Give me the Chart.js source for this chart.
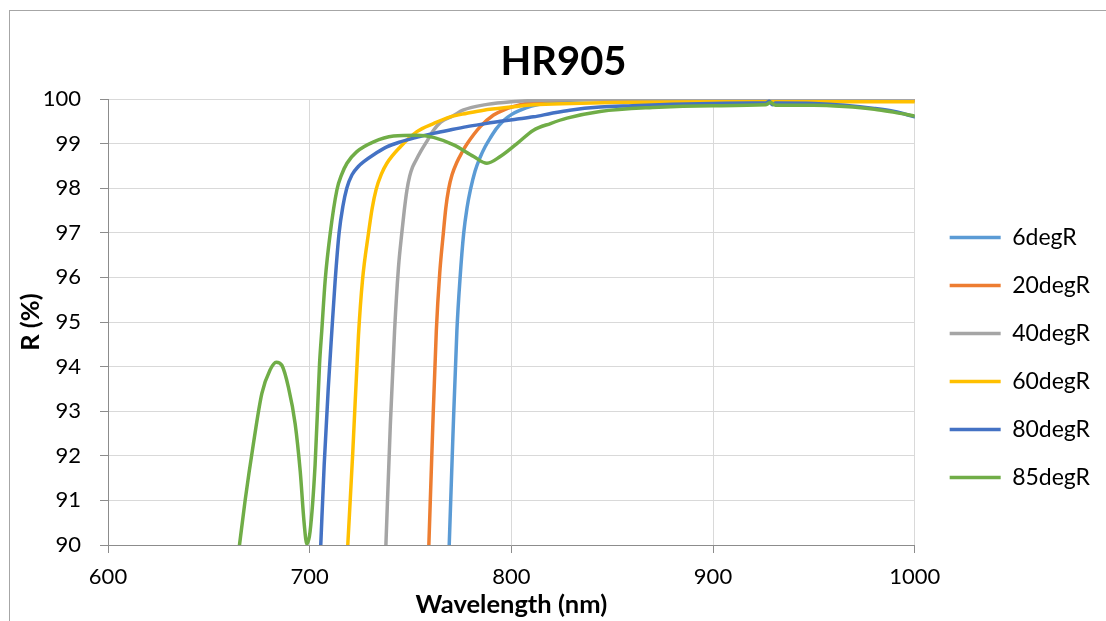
<!DOCTYPE html>
<html>
<head>
<meta charset="utf-8">
<title>HR905</title>
<script src="https://cdn.jsdelivr.net/npm/chart.js@4.4.1/dist/chart.umd.min.js"></script>
<style>
  html, body { margin: 0; padding: 0; background: #fff; overflow: hidden; }
  #wrap { position: relative; width: 1106px; height: 621px; overflow: hidden; }
  #wrap canvas { position: absolute; left: 0; top: 0; }
  #frame { position: absolute; left: 9px; top: 10px; width: 1200px; height: 700px;
           border-left: 1px solid #a6a6a6; border-top: 1px solid #a6a6a6; pointer-events: none; }
</style>
</head>
<body>
<div id="wrap">
  <canvas id="chart" width="1106" height="621"></canvas>
  <div id="frame"></div>
</div>
<script>
// Texts
const chartTitle = 'HR905';
const xTitle = 'Wavelength (nm)';
const yTitle = 'R (%)';
const seriesNames = ['6degR', '20degR', '40degR', '60degR', '80degR', '85degR'];

// Axis ranges / ticks
const xTicks = [600, 700, 800, 900, 1000];
const yTicks = [90, 91, 92, 93, 94, 95, 96, 97, 98, 99, 100];

// Measured reflectance, wavelength (nm) vs R (%)
const wl6 = [769.2, 771, 773, 774.6, 776.4, 778, 779.7, 782, 784.6, 787, 789.6, 792.5, 796.2, 800, 804.5, 810, 816, 829, 850, 900, 950, 1000];
const r6  = [90, 92.4, 94.8, 96.0, 97.0, 97.55, 97.96, 98.38, 98.7, 98.93, 99.13, 99.33, 99.52, 99.65, 99.75, 99.84, 99.9, 99.97, 99.99, 99.99, 99.98, 99.96];

const wl20 = [759.1, 761, 762.8, 764.5, 766.3, 767.5, 768.9, 770.6, 773, 775.5, 778, 784.6, 791.2, 797, 804.5, 812, 820.8, 850, 900, 950, 1000];
const r20  = [90, 92.6, 94.8, 96.1, 97.0, 97.55, 97.98, 98.3, 98.58, 98.8, 98.99, 99.38, 99.64, 99.77, 99.87, 99.93, 99.98, 100, 100, 99.99, 99.98];

const wl40 = [737.8, 740, 742.1, 744, 745.7, 746.9, 748.2, 749.6, 751, 752.4, 755, 758.5, 761, 765, 771, 776, 788, 800, 820, 850, 900, 1000];
const r40  = [90, 92.7, 94.8, 96.2, 97.0, 97.5, 97.95, 98.27, 98.47, 98.6, 98.82, 99.08, 99.27, 99.48, 99.62, 99.75, 99.88, 99.94, 99.98, 100, 100, 99.99];

const wl60 = [718.9, 721.4, 724.2, 726.2, 729.2, 731, 733, 735.5, 738.3, 745, 753.2, 761.4, 769.7, 778, 786.3, 800, 811, 830, 850, 900, 950, 1000];
const r60  = [90, 92.1, 94.7, 95.94, 97.0, 97.55, 97.98, 98.31, 98.56, 98.93, 99.27, 99.45, 99.6, 99.68, 99.75, 99.82, 99.87, 99.9, 99.92, 99.94, 99.94, 99.94];

const wl80 = [705.5, 707.2, 709.2, 711, 712.6, 714.6, 716.5, 718.4, 721, 724, 727, 731.7, 738, 745, 753, 761.4, 770, 778, 786, 794.5, 803, 811, 820, 829, 844, 860, 880, 900, 920, 926, 928, 929.5, 931, 950, 965, 980, 990, 1000];
const r80  = [90, 91.8, 93.5, 94.8, 95.9, 97.0, 97.6, 98.0, 98.3, 98.48, 98.6, 98.75, 98.92, 99.04, 99.14, 99.23, 99.31, 99.38, 99.44, 99.5, 99.55, 99.6, 99.68, 99.75, 99.82, 99.85, 99.88, 99.9, 99.91, 99.91, 99.95, 99.87, 99.91, 99.9, 99.86, 99.79, 99.72, 99.6];

const wl85 = [665.2, 668, 672.1, 676.3, 680.4, 683.4, 686.2, 689.5, 692.8, 695.3, 697.3, 698.6, 700.2, 702.7, 704.9, 706, 707.7, 710.2, 713.5, 715.8, 718.5, 723.4, 731.7, 741.6, 753.2, 761.4, 771.4, 781.3, 787.9, 794.5, 802.8, 811, 819.4, 827.6, 844, 870, 900, 926, 928.5, 931, 950, 965, 980, 990, 1000];
const r85  = [90, 91, 92.27, 93.4, 93.93, 94.1, 94.03, 93.53, 92.72, 91.66, 90.47, 90.02, 90.3, 91.8, 94.06, 94.8, 95.94, 96.99, 97.96, 98.3, 98.56, 98.82, 99.04, 99.17, 99.19, 99.14, 98.97, 98.71, 98.56, 98.71, 99.0, 99.3, 99.45, 99.57, 99.72, 99.81, 99.85, 99.87, 99.92, 99.86, 99.86, 99.83, 99.77, 99.7, 99.62];

const seriesX = [wl6, wl20, wl40, wl60, wl80, wl85];
const seriesY = [r6, r20, r40, r60, r80, r85];

// Office palette
const seriesColors = ['#5B9BD5', '#ED7D31', '#A5A5A5', '#FFC000', '#4472C4', '#70AD47'];

const FONT = 'Lato, "Open Sans", "DejaVu Sans", sans-serif';
const AXIS_GREY = '#8c8c8c';
const GRID_GREY = '#d9d9d9';

const datasets = seriesNames.map((name, i) => ({
  label: name,
  data: seriesX[i].map((x, k) => ({ x: x, y: seriesY[i][k] })),
  borderColor: seriesColors[i],
  backgroundColor: seriesColors[i],
  borderWidth: 3.5,
  borderCapStyle: 'round',
  borderJoinStyle: 'round',
  pointRadius: 0,
  pointHoverRadius: 0,
  fill: false,
  cubicInterpolationMode: 'monotone',
  // later series are painted on top
  order: seriesNames.length - i
}));

// fine placement of the title and legend blocks after layout
const blockOffsets = {
  id: 'blockOffsets',
  afterLayout(chart) {
    const lg = chart.legend;
    if (lg) { lg.left += 10; lg.right += 10; lg.top += 47; lg.bottom += 47; }
    const tb = chart.titleBlock;
    if (tb) { tb.left += 8; tb.right += 8; }
  }
};

Chart.defaults.font.family = FONT;
Chart.defaults.color = '#000';

new Chart(document.getElementById('chart'), {
  type: 'line',
  data: { datasets },
  plugins: [blockOffsets],
  options: {
    responsive: false,
    animation: false,
    devicePixelRatio: 1,
    layout: { padding: { left: 21, right: 16, top: 0, bottom: 0 } },
    plugins: {
      title: {
        display: true,
        text: chartTitle,
        color: '#000',
        font: { family: FONT, size: 40, weight: 'bold' },
        padding: { top: 38, bottom: 13 }
      },
      legend: {
        position: 'right',
        reverse: true,
        labels: {
          color: '#000',
          font: { family: FONT, size: 23 },
          usePointStyle: true,
          pointStyle: 'line',
          pointStyleWidth: 51,
          padding: 25
        }
      },
      tooltip: { enabled: false }
    },
    scales: {
      x: {
        type: 'linear',
        min: xTicks[0],
        max: xTicks[xTicks.length - 1],
        afterBuildTicks: (s) => { s.ticks = xTicks.map(v => ({ value: v })); },
        afterFit: (s) => { s.height = 76; },
        ticks: { color: '#000', font: { family: FONT, size: 22 }, padding: 11, maxRotation: 0,
                 callback: (v) => String(v) },
        grid: { color: GRID_GREY, lineWidth: 1, tickLength: 8, tickColor: AXIS_GREY },
        border: { color: AXIS_GREY, width: 1 },
        title: {
          display: true, text: xTitle, color: '#000',
          font: { family: FONT, size: 25.5, weight: 'bold' },
          padding: { top: 0, bottom: 1 }
        }
      },
      y: {
        type: 'linear',
        min: yTicks[0],
        max: yTicks[yTicks.length - 1],
        afterBuildTicks: (s) => { s.ticks = yTicks.map(v => ({ value: v })); },
        afterFit: (s) => { s.width = 87; },
        ticks: { color: '#000', font: { family: FONT, size: 22 }, padding: 19,
                 callback: (v) => String(v) },
        grid: { color: GRID_GREY, lineWidth: 1, tickLength: 8, tickColor: AXIS_GREY },
        border: { color: AXIS_GREY, width: 1 },
        title: {
          display: true, text: yTitle, color: '#000',
          font: { family: FONT, size: 25.5, weight: 'bold', lineHeight: 1 },
          padding: { top: -3, bottom: 0 }
        }
      }
    }
  }
});
</script>
</body>
</html>
